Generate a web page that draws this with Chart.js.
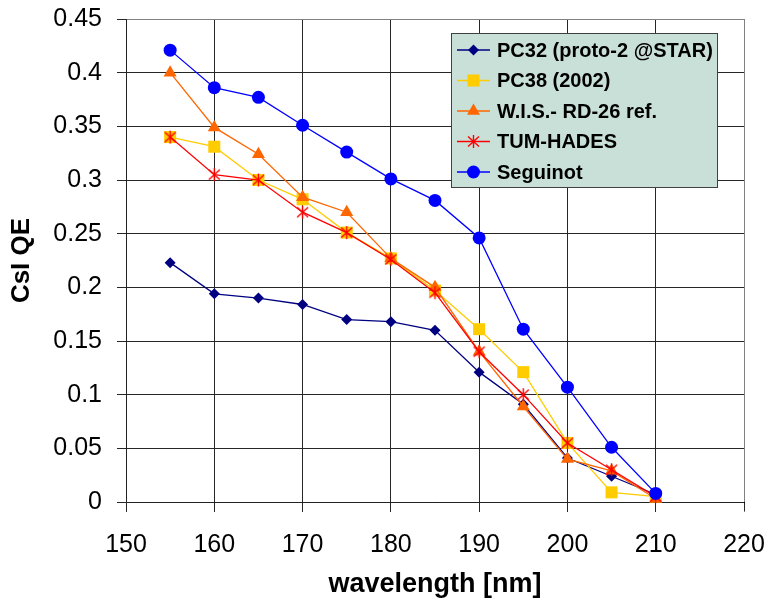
<!DOCTYPE html>
<html>
<head>
<meta charset="utf-8">
<script src="https://cdn.jsdelivr.net/npm/chart.js@4/dist/chart.umd.min.js"></script>
<style>
  html, body { margin: 0; padding: 0; background: #fff; }
  #wrap { position: relative; width: 770px; height: 605px; }
  #grid { position: absolute; left: 0; top: 0; width: 770px; height: 605px; z-index: 0; }
  #grid div { position: absolute; }
  #qeChart { position: relative; z-index: 1; background: transparent; }
</style>
</head>
<body>
<div id="wrap"><div id="grid"></div><canvas id="qeChart" width="770" height="605"></canvas></div>
<script>
// wavelength [nm]
const wavelengths = [155, 160, 165, 170, 175, 180, 185, 190, 195, 200, 205, 210];

// CsI QE per series
const pc32     = [0.223, 0.194, 0.190, 0.184, 0.170, 0.168, 0.160, 0.121, 0.091, 0.041, 0.024, 0.007];
const pc38     = [0.340, 0.331, 0.300, 0.282, 0.251, 0.227, 0.197, 0.161, 0.121, 0.055, 0.009, 0.005];
const wis      = [0.400, 0.349, 0.324, 0.284, 0.270, 0.227, 0.200, 0.140, 0.089, 0.040, 0.029, 0.003];
const tum      = [0.340, 0.305, 0.300, 0.270, 0.251, 0.226, 0.195, 0.140, 0.100, 0.055, 0.030, 0.005];
const seguinot = [0.421, 0.386, 0.377, 0.351, 0.326, 0.301, 0.281, 0.246, 0.161, 0.107, 0.051, 0.008];

const seriesNames = ["PC32 (proto-2 @STAR)", "PC38 (2002)", "W.I.S.- RD-26 ref.", "TUM-HADES", "Seguinot"];

// axis ranges / steps
const xMin = 150, xMax = 220, xStep = 10;
const yMin = 0, yMax = 0.45, yStep = 0.05;

const FONT = "'Liberation Sans', Arial, sans-serif";

function toPoints(vals) {
    return wavelengths.map((w, i) => ({ x: w, y: vals[i] }));
}

// excel style asterisk (vertical bar + x)
function makeAsterisk(color) {
    const c = document.createElement('canvas');
    c.width = 15; c.height = 15;
    const g = c.getContext('2d');
    g.strokeStyle = color;
    g.lineWidth = 1.4;
    g.beginPath();
    g.moveTo(7.5, 1); g.lineTo(7.5, 14);
    g.moveTo(2, 2.5); g.lineTo(13, 12.5);
    g.moveTo(13, 2.5); g.lineTo(2, 12.5);
    g.stroke();
    return c;
}

function series(label, vals, color, style, radius, order) {
    return {
        label: label,
        data: toPoints(vals),
        borderColor: color,
        backgroundColor: color,
        pointBackgroundColor: color,
        pointBorderColor: color,
        pointBorderWidth: 0,
        pointStyle: style,
        pointRadius: radius,
        pointHoverRadius: radius,
        borderWidth: 1.3,
        tension: 0,
        clip: false,
        order: order
    };
}

// no label overhang, the layout padding decides the plot box
function fixScale(s, size) {
    if (s.isHorizontal()) s.height = size; else s.width = size;
    s.paddingTop = 0; s.paddingBottom = 0;
    s.paddingLeft = 0; s.paddingRight = 0;
}

function gridColors(n) {
    const arr = [];
    for (let i = 0; i < n; i++) arr.push(i === n - 1 ? '#808080' : '#262626');
    return arr;
}

// legend drawn inside the plot, like the original
const insideLegend = {
    id: 'insideLegend',
    afterDraw(chart, args, opts) {
        const g = chart.ctx;
        const b = opts.box;
        g.save();
        g.fillStyle = '#c9e0d8';
        g.fillRect(b.x, b.y, b.w, b.h);
        g.strokeStyle = '#404040';
        g.lineWidth = 1;
        g.strokeRect(b.x + 0.5, b.y + 0.5, b.w, b.h);

        chart.data.datasets.forEach((ds, i) => {
            const y = b.y + 17 + i * 30.5;
            g.strokeStyle = ds.borderColor;
            g.lineWidth = 1.3;
            g.beginPath();
            g.moveTo(b.x + 6, y);
            g.lineTo(b.x + 39, y);
            g.stroke();
            g.fillStyle = ds.pointBackgroundColor;
            g.strokeStyle = ds.pointBorderColor;
            Chart.helpers.drawPoint(g, {
                pointStyle: ds.pointStyle,
                radius: ds.pointRadius,
                borderWidth: 0,
                rotation: 0
            }, b.x + 22.5, y);
            g.fillStyle = '#000';
            g.font = 'bold 20px ' + FONT;
            g.textBaseline = 'middle';
            g.textAlign = 'left';
            g.fillText(ds.label, b.x + 46, y + 1);
        });
        g.restore();
    }
};

const canvas = document.getElementById('qeChart');

try {
    new Chart(canvas.getContext('2d'), {
        type: 'line',
        data: {
            datasets: [
                series(seriesNames[0], pc32, '#000080', 'rectRot', 5.5, 4),
                series(seriesNames[1], pc38, '#ffcc00', 'rect', 8.5, 3),
                series(seriesNames[2], wis, '#ff6600', 'triangle', 7.5, 2),
                series(seriesNames[3], tum, '#ff0000', makeAsterisk('#ff0000'), 7, 1),
                series(seriesNames[4], seguinot, '#0000ff', 'circle', 6.5, 0)
            ]
        },
        options: {
            responsive: false,
            animation: false,
            devicePixelRatio: 1,
            layout: {
                padding: { top: 19, right: 26, left: 0, bottom: 0 }
            },
            scales: {
                x: {
                    type: 'linear',
                    min: xMin,
                    max: xMax,
                    afterFit: s => fixScale(s, 103),
                    ticks: {
                        stepSize: xStep,
                        color: '#000',
                        font: { family: FONT, size: 25 },
                        padding: 19,
                        maxRotation: 0
                    },
                    grid: { color: gridColors(8), lineWidth: 1, tickLength: 9, tickColor: '#262626' },
                    title: {
                        display: true,
                        text: 'wavelength [nm]',
                        color: '#000',
                        font: { family: FONT, size: 27, weight: 'bold' },
                        padding: { top: 0, bottom: 4 }
                    }
                },
                y: {
                    type: 'linear',
                    min: yMin,
                    max: yMax,
                    afterFit: s => fixScale(s, 126),
                    ticks: {
                        stepSize: yStep,
                        color: '#000',
                        font: { family: FONT, size: 25 },
                        padding: 15,
                        callback: v => String(+v.toFixed(2))
                    },
                    grid: { color: gridColors(10), lineWidth: 1, tickLength: 9, tickColor: '#262626' },
                    title: {
                        display: true,
                        text: 'CsI QE',
                        color: '#000',
                        font: { family: FONT, size: 26, weight: 'bold' },
                        padding: { top: 6, bottom: 0 }
                    }
                }
            },
            plugins: {
                legend: { display: false },
                tooltip: { enabled: false },
                insideLegend: {
                    box: { x: 451, y: 33, w: 266, h: 154 }
                }
            }
        },
        plugins: [insideLegend]
    });
} catch (e) {
    console.error(e);
}

// grid lines behind the canvas, placed from the chart's own scales
try {
    const chart = Chart.getChart(canvas);
    const a = chart.chartArea;
    const xs = chart.scales.x, ys = chart.scales.y;
    const tl = 9;
    const host = document.getElementById('grid');
    const col = p => Math.round(p - 0.5);
    const top = col(a.top), bottom = col(a.bottom), left = col(a.left), right = col(a.right);
    const line = (x, y, w, h, color) => {
        const d = document.createElement('div');
        d.style.left = x + 'px'; d.style.top = y + 'px';
        d.style.width = w + 'px'; d.style.height = h + 'px';
        d.style.background = color;
        host.appendChild(d);
    };
    xs.ticks.forEach((t, i) => {
        const x = col(xs.getPixelForValue(t.value));
        line(x, top, 1, bottom - top + tl + 1, i === xs.ticks.length - 1 ? '#808080' : '#262626');
    });
    ys.ticks.forEach((t, i) => {
        const y = col(ys.getPixelForValue(t.value));
        line(left - tl, y, right - left + tl + 1, 1, i === ys.ticks.length - 1 ? '#808080' : (i === 0 ? '#000' : '#262626'));
    });
    line(left, top, 1, bottom - top + tl + 1, '#404040');
} catch (e) {
    console.error(e);
}
</script>
</body>
</html>
